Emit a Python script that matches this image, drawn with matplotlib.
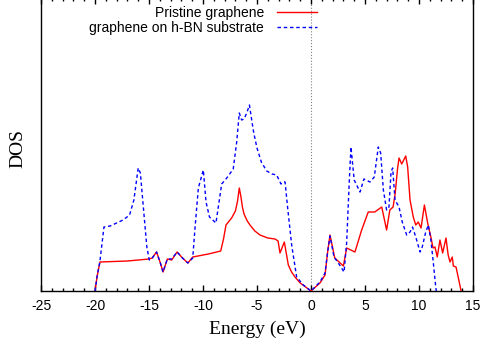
import matplotlib
matplotlib.use("Agg")
import matplotlib.pyplot as plt
from matplotlib.ticker import MultipleLocator
import numpy as np

# Pristine graphene DOS (energy in eV, DOS in arbitrary units)
e_pristine = [-20.0, -19.8, -19.54, -17.0, -15.0, -14.7, -14.3, -13.95, -13.7, -13.3, -12.9, -12.4,
              -11.9, -11.4, -10.95, -9.5, -8.36, -8.1, -7.87, -7.35, -7.0, -6.8, -6.64, -6.5, -6.35, -6.2,
              -5.9, -5.65, -5.2, -4.72, -4.0, -3.33, -3.05, -2.87, -2.47, -2.1, -1.8, -1.48, -1.0, -0.5, 0.0,
              0.83, 1.3, 1.55, 1.76, 2.2, 3.0, 3.3, 4.07, 4.69, 5.3, 5.9, 6.55, 7.0, 7.3, 7.6,
              7.8, 8.0, 8.15, 8.4, 8.77, 8.95, 9.17, 9.47, 9.7, 9.93, 10.19, 10.5, 10.8,
              11.1, 11.3, 11.48, 11.69, 11.94, 12.19, 12.5, 12.7, 12.87, 13.08, 13.18,
              13.43, 13.9]
dos_pristine = [0.0, 0.15, 0.29, 0.30, 0.32, 0.33, 0.39, 0.28, 0.19, 0.32, 0.31, 0.39,
                0.33, 0.28, 0.34, 0.37, 0.40, 0.52, 0.66, 0.73, 0.80, 0.90, 1.03, 0.95, 0.84, 0.77,
                0.70, 0.66, 0.60, 0.56, 0.53, 0.52, 0.50, 0.38, 0.49, 0.26, 0.19, 0.14, 0.08, 0.04, 0.0,
                0.08, 0.16, 0.40, 0.56, 0.33, 0.25, 0.43, 0.39, 0.61, 0.79, 0.79, 0.84, 0.61, 0.81, 0.84,
                0.98, 1.21, 1.33, 1.27, 1.35, 1.24, 0.91, 0.74, 0.66, 0.69, 0.63, 0.86, 0.68,
                0.54, 0.43, 0.44, 0.34, 0.51, 0.38, 0.53, 0.36, 0.29, 0.34, 0.25,
                0.24, 0.0]

# graphene on h-BN substrate
e_hbn = [-20.0, -19.8, -19.54, -19.17, -18.6, -17.4, -16.8, -16.4, -16.0, -15.8, -15.5, -15.2,
         -14.97, -14.7, -14.3, -13.95, -13.7, -13.3, -12.9, -12.4, -11.9, -11.4, -10.95,
         -10.74, -10.43, -9.97, -9.72, -9.4, -8.8, -8.27, -7.8, -7.2, -6.88, -6.64, -6.42,
         -6.2, -5.95, -5.7, -5.49, -5.3, -5.0, -4.6, -4.1, -3.6, -3.18, -2.78, -2.56, -2.4,
         -2.19, -1.79, -1.33, -0.71, 0.0,
         0.83, 1.3, 1.55, 1.76, 2.13, 2.53, 3.06, 3.3, 3.55, 3.7, 4.0, 4.54, 4.9, 5.46,
         5.86, 6.23, 6.45, 6.7, 7.0, 7.22, 7.41, 7.56, 7.78, 8.15, 8.45, 8.86, 9.17, 9.4,
         9.7, 10.1, 10.3, 10.6, 10.86, 11.1, 11.3, 11.55, 11.6]
dos_hbn = [0.0, 0.15, 0.30, 0.64, 0.65, 0.71, 0.76, 0.91, 1.23, 1.18, 0.81, 0.44,
           0.31, 0.33, 0.39, 0.28, 0.19, 0.32, 0.32, 0.39, 0.33, 0.28, 0.33,
           0.63, 1.03, 1.21, 0.89, 0.74, 0.68, 1.07, 1.13, 1.22, 1.49, 1.78, 1.71,
           1.72, 1.78, 1.86, 1.71, 1.58, 1.43, 1.29, 1.20, 1.17, 1.16, 1.07, 1.09, 1.09,
           0.86, 0.46, 0.14, 0.06, 0.0,
           0.09, 0.18, 0.40, 0.55, 0.34, 0.28, 0.19, 0.48, 1.11, 1.44, 1.11, 0.99, 1.12, 1.09,
           1.14, 1.44, 1.38, 1.01, 0.81, 0.84, 1.19, 1.23, 0.91, 0.84, 0.69, 0.56, 0.59, 0.64,
           0.54, 0.39, 0.44, 0.58, 0.66, 0.51, 0.31, 0.04, 0.0]

x_ticks = [-25, -20, -15, -10, -5, 0, 5, 10, 15]

fig = plt.figure(figsize=(4.8, 3.46), dpi=100)
# top spine sits just above the picture edge, as in the reference
ax = fig.add_axes([41 / 480, 55 / 346, 432 / 480, 293 / 346])

ax.axvline(0, color='gray', linestyle=':', linewidth=0.8, zorder=1)
ax.plot(e_pristine, dos_pristine, color='red', linewidth=1.0, label='Pristine graphene', zorder=3)
ax.plot(e_hbn, dos_hbn, color='blue', linewidth=1.0, linestyle=(0, (2.5, 2)),
        label='graphene on h-BN substrate', zorder=4)

ax.set_xlim(-25, 15)
ax.set_ylim(0, 2.93)
ax.set_xticks(x_ticks)
ax.set_xticklabels([str(t) for t in x_ticks], fontfamily='Liberation Sans', fontsize=10)
ax.xaxis.set_minor_locator(MultipleLocator(1))
ax.tick_params(axis='x', which='both', direction='in', top=True, bottom=True, pad=6)
ax.tick_params(axis='x', which='major', length=4.5, width=1)
ax.tick_params(axis='x', which='minor', length=2.2, width=1)
ax.set_yticks([])
for s in ax.spines.values():
    s.set_linewidth(1.0)

ax.set_xlabel('Energy (eV)', fontfamily='Liberation Serif', fontsize=14, labelpad=5)
fig.text(17.5 / 480, 1 - 148 / 346, 'DOS', rotation=90, ha='center', va='center',
         fontfamily='Liberation Serif', fontsize=14)

leg = ax.legend(loc='upper right', bbox_to_anchor=(317 / 480, 1 - 6 / 346),
                bbox_transform=fig.transFigure, frameon=False, markerfirst=False,
                prop={'family': 'Liberation Sans', 'size': 10},
                handlelength=2.9, handletextpad=0.9, labelspacing=0.05,
                borderpad=0, borderaxespad=0)

fig.savefig('out.png', dpi=100)
plt.close(fig)
